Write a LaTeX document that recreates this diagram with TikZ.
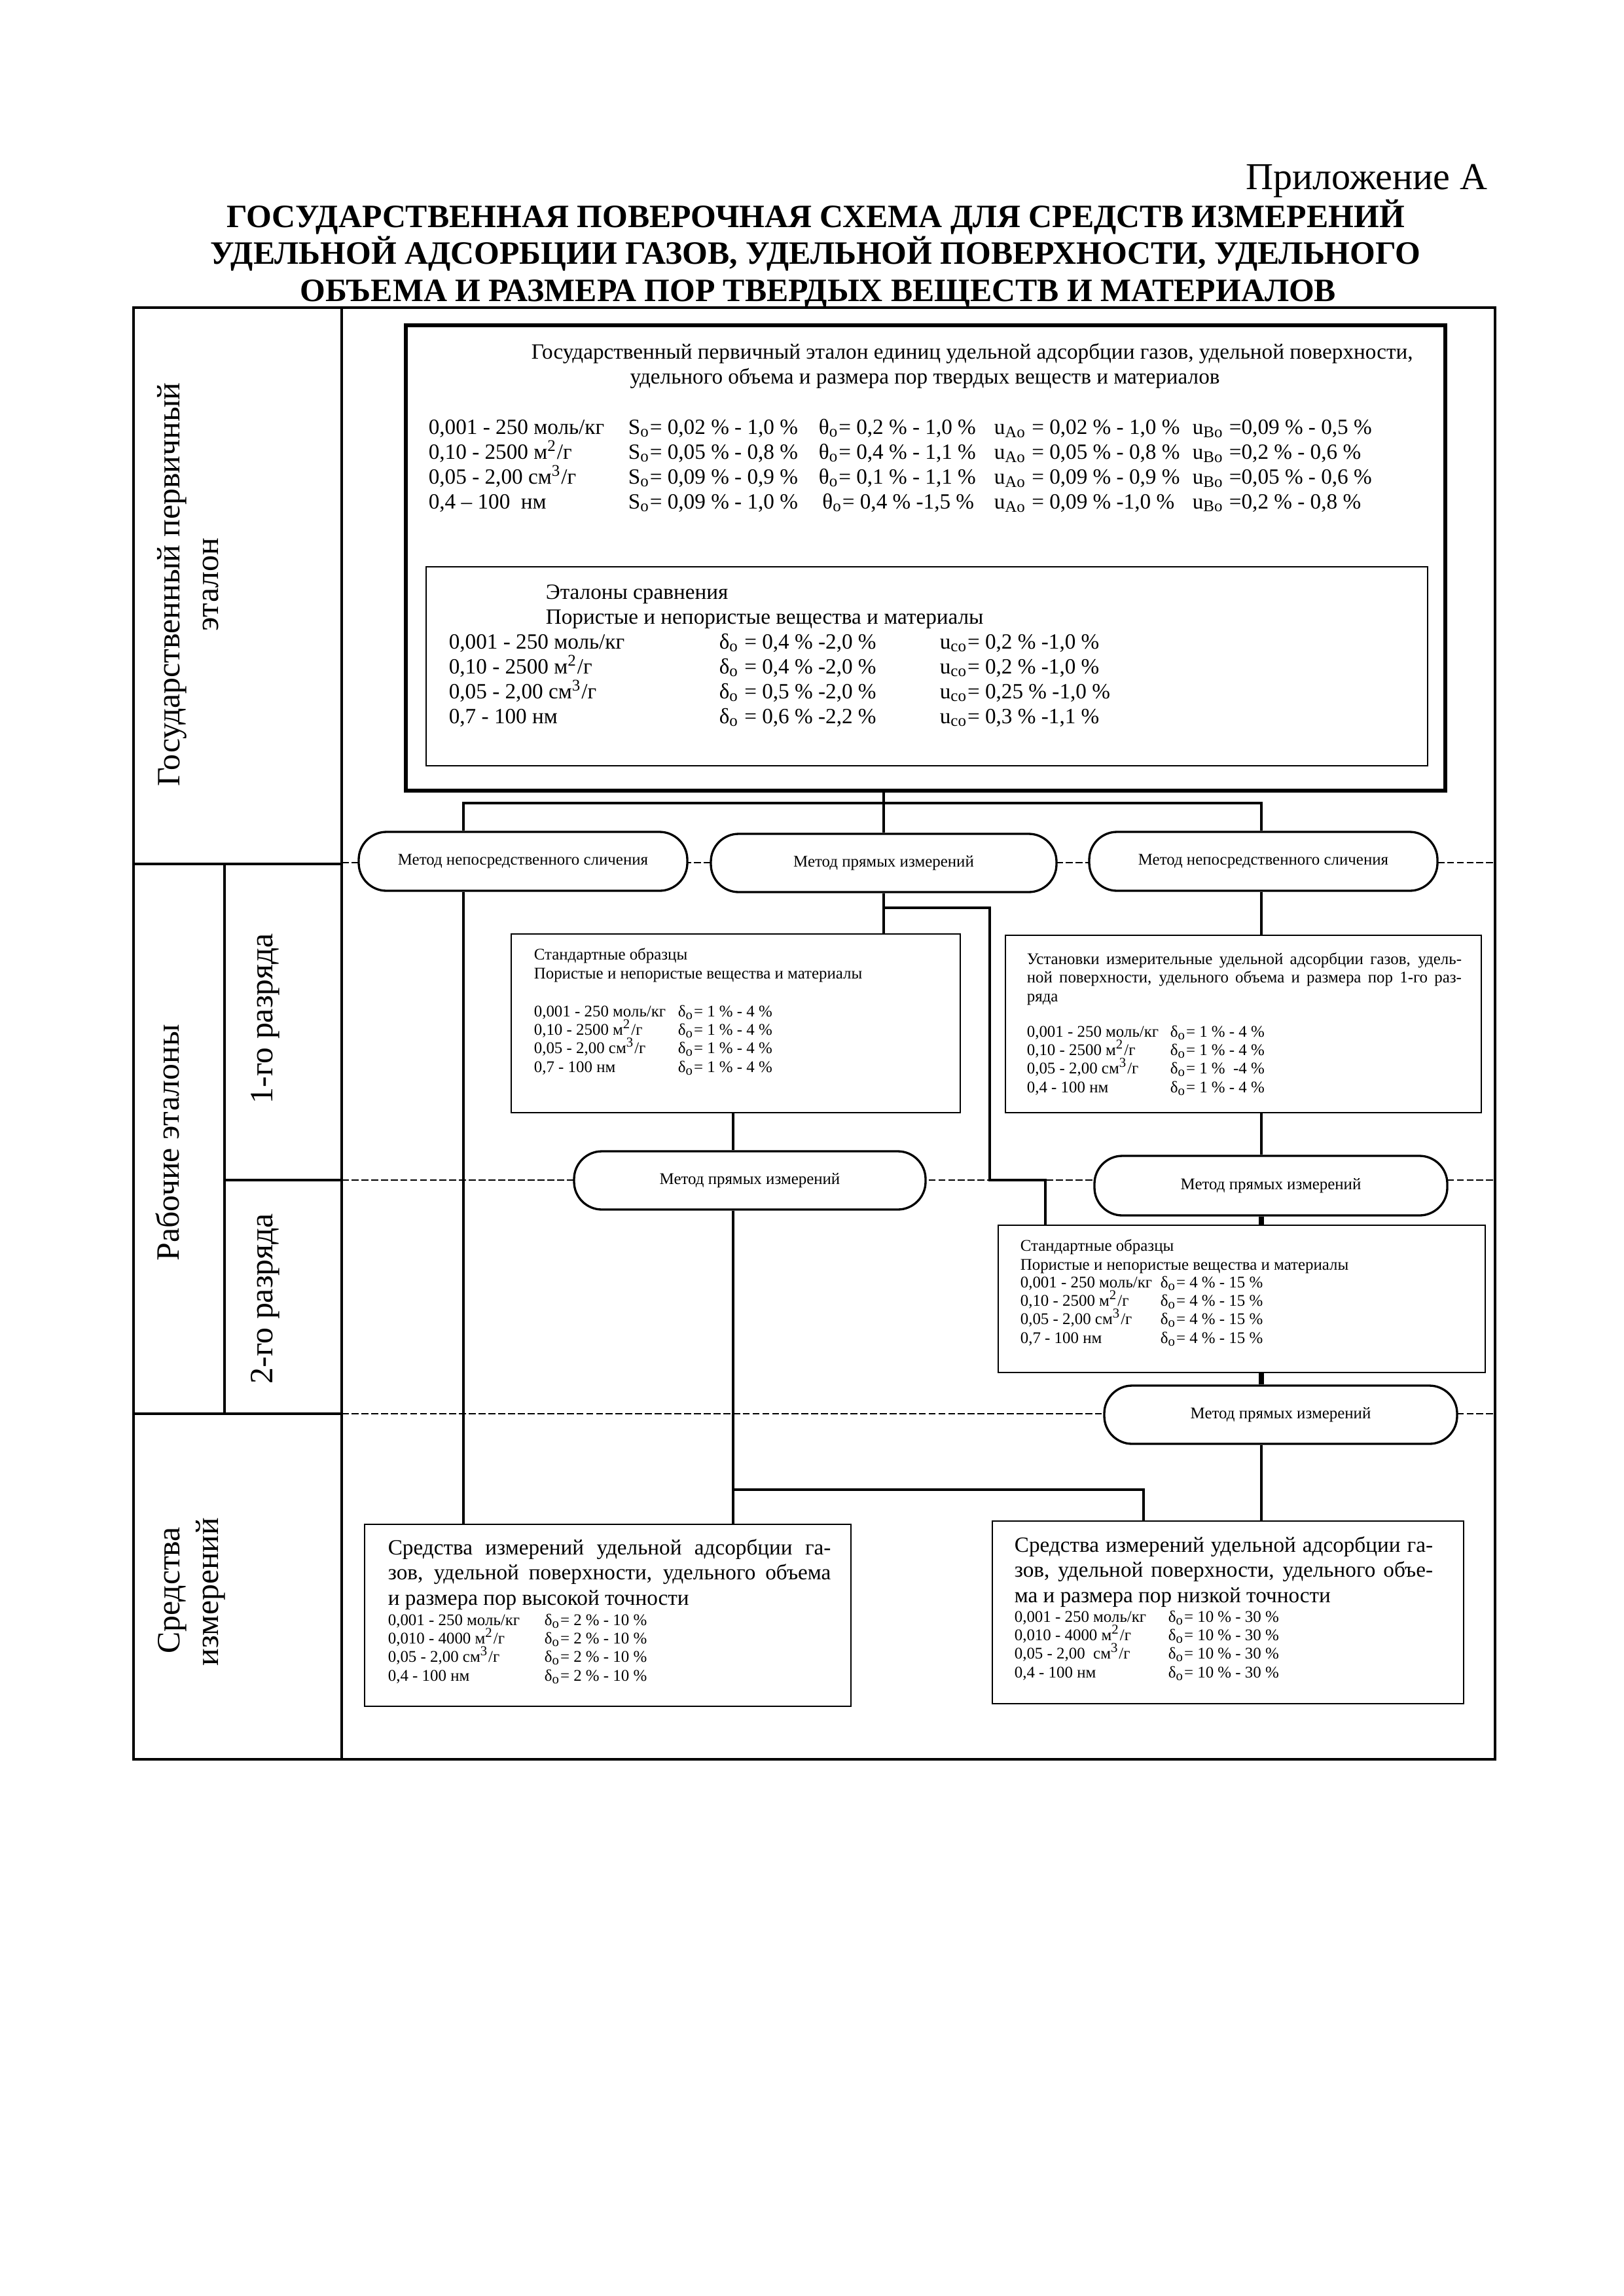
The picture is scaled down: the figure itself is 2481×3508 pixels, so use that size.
\documentclass[tikz,border=0pt]{standalone}
\usepackage{fontspec}
\setmainfont{Liberation Serif}
\usetikzlibrary{fit,positioning}
\setlength{\lineskiplimit}{-10pt}
\tikzset{
  frameline/.style={black, line width=0.8pt},
  wire/.style={black, line width=1.1pt},
  thickwire/.style={black, line width=2pt},
  levelline/.style={black, line width=0.4pt, dash pattern=on 2.6pt off 1pt},
  primebox/.style={draw=black, line width=1.4pt, inner sep=0pt},
  cmpbox/.style={draw=black, line width=0.7pt, inner sep=0pt},
  stdbox/.style={draw=black, line width=0.6pt, fill=white, inner sep=0pt},
  method/.style={draw=black, line width=0.8pt, fill=white, rounded corners=3.6mm, inner sep=0pt},
  methodtext/.style={inner sep=0pt, font=\fontsize{6}{7}\selectfont},
  sidelab/.style={rotate=90, anchor=base, inner sep=0pt, font=\fontsize{12}{14}\selectfont},
  txt/.style={anchor=base west, inner sep=0pt, align=left},
  rows8/.style={txt, font=\fontsize{8}{9.12}\selectfont},
  rows6/.style={txt, font=\fontsize{6}{6.8}\selectfont},
  para8/.style={txt, font=\fontsize{8}{9.24}\selectfont},
}

\begin{document}
\begin{tikzpicture}[x=0.0846667mm,y=-0.0846667mm]
  \path[use as bounding box] (0,0) rectangle (2481,3508);

  % heading
  \node[anchor=base east, inner sep=0pt, font=\fontsize{14}{16}\selectfont] (appendix) at (2273,289) {Приложение А};
  \node[anchor=base, inner sep=0pt, font=\bfseries\fontsize{12}{13.6}\selectfont] (title1) at (1246,347)
    {ГОСУДАРСТВЕННАЯ ПОВЕРОЧНАЯ СХЕМА ДЛЯ СРЕДСТВ ИЗМЕРЕНИЙ};
  \node[anchor=base, inner sep=0pt, font=\bfseries\fontsize{12}{13.6}\selectfont] (title2) at (1246,403)
    {УДЕЛЬНОЙ АДСОРБЦИИ ГАЗОВ, УДЕЛЬНОЙ ПОВЕРХНОСТИ, УДЕЛЬНОГО};
  \node[anchor=base, inner sep=0pt, font=\bfseries\fontsize{12}{13.6}\selectfont] (title3) at (1250,460)
    {ОБЪЕМА И РАЗМЕРА ПОР ТВЕРДЫХ ВЕЩЕСТВ И МАТЕРИАЛОВ};

  % frame and level lines
  \draw[frameline] (204,470) rectangle (2284,2688);
  \draw[frameline] (522,470) -- (522,2688);
  \draw[frameline] (343,1320) -- (343,2160);
  \draw[frameline] (204,1320) -- (522,1320);
  \draw[frameline] (343,1803) -- (522,1803);
  \draw[frameline] (204,2160) -- (522,2160);
  \draw[levelline] (522,1318) -- (2284,1318);
  \draw[levelline] (522,1803) -- (2284,1803);
  \draw[levelline] (522,2160) -- (2284,2160);

  % side labels
  \node[sidelab] (lab-state1) at (274,893) {Государственный первичный};
  \node[sidelab] (lab-state2) at (333,893) {эталон};
  \node[sidelab] (lab-work) at (273,1746) {Рабочие эталоны};
  \node[sidelab] (lab-grade1) at (416,1556) {1-го разряда};
  \node[sidelab] (lab-grade2) at (416,1984) {2-го разряда};
  \node[sidelab] (lab-means1) at (274,2430) {Средства};
  \node[sidelab] (lab-means2) at (333,2432) {измерений};

  % boxes
  \node[primebox, fit={(620,497) (2208,1208)}] (prime) {};
  \node[cmpbox, fit={(651,866) (2181,1170)}] (cmp) {};
  \node[stdbox, fit={(781,1427) (1467,1700)}] (std1) {};
  \node[stdbox, fit={(1536,1429) (2263,1700)}] (inst1) {};
  \node[stdbox, fit={(1525,1872) (2269,2097)}] (std2) {};
  \node[stdbox, fit={(557,2329) (1300,2607)}] (hiacc) {};
  \node[stdbox, fit={(1516,2324) (2236,2603)}] (loacc) {};

  % methods
  \node[method, fit={(548,1271) (1050,1361)},
        label={[methodtext]center:Метод непосредственного сличения}] (cmpL) {};
  \node[method, fit={(1086,1274) (1614,1363)},
        label={[methodtext]center:Метод прямых измерений}] (dirM) {};
  \node[method, fit={(1664,1271) (2196,1361)},
        label={[methodtext]center:Метод непосредственного сличения}] (cmpR) {};
  \node[method, fit={(877,1759) (1414,1848)},
        label={[methodtext]center:Метод прямых измерений}] (dirL2) {};
  \node[method, fit={(1672,1766) (2211,1857)},
        label={[methodtext]center:Метод прямых измерений}] (dirR2) {};
  \node[method, fit={(1687,2117) (2226,2206)},
        label={[methodtext]center:Метод прямых измерений}] (dirR3) {};

  % connectors
  \coordinate (bus) at (0,1227);
  \coordinate (colA) at (708,0);
  \coordinate (colB) at (1120,0);
  \coordinate (colR) at (1927,0);
  \coordinate (branch) at (1512,1387);
  \coordinate (step) at (1597,1803);
  \coordinate (split) at (1747,2276);
  \draw[wire] (dirM.north) -- (dirM.north |- prime.south);
  \draw[wire] (colA |- cmpL.north) -- (colA |- bus) -- (colR |- bus) -- (colR |- cmpR.north);
  \draw[wire] (colA |- cmpL.south) -- (colA |- hiacc.north);
  \draw[wire] (dirM.south) -- (dirM.south |- std1.north);
  \draw[wire] (dirM.south |- branch) -- (branch) |- (step) -- (step |- std2.north);
  \draw[wire] (colR |- cmpR.south) -- (colR |- inst1.north);
  \draw[wire] (colB |- std1.south) -- (colB |- dirL2.north);
  \draw[wire] (colB |- dirL2.south) -- (colB |- hiacc.north);
  \draw[wire] (colB |- split) -- (split) -- (split |- loacc.north);
  \draw[wire] (colR |- inst1.south) -- (colR |- dirR2.north);
  \draw[thickwire] (colR |- dirR2.south) -- (colR |- std2.north);
  \draw[thickwire] (colR |- std2.south) -- (colR |- dirR3.north);
  \draw[wire] (colR |- dirR3.south) -- (colR |- loacc.north);

  % primary standard (multi-line texts sit on the baseline of their last line)
  \node[rows8] (prime-t1) at (811,548)
    {Государственный первичный эталон единиц удельной адсорбции газов, удельной поверхности,};
  \node[anchor=base, inner sep=0pt, font=\fontsize{8}{9.12}\selectfont] (prime-t2) at (1413,586)
    {удельного объема и размера пор твердых веществ и материалов};
  \node[rows8] (prime-range) at (654,777)
    {0,001 - 250 моль/кг\\0,10 - 2500 м\textsuperscript{2}/г\\0,05 - 2,00 см\textsuperscript{3}/г\\0,4 – 100~ нм};
  \node[rows8] (prime-s) at (959,777)
    {S\textsubscript{o}= 0,02 \% - 1,0 \%\\S\textsubscript{o}= 0,05 \% - 0,8 \%\\S\textsubscript{o}= 0,09 \% - 0,9 \%\\S\textsubscript{o}= 0,09 \% - 1,0 \%};
  \node[rows8] (prime-theta) at (1250,777)
    {θ\textsubscript{o}= 0,2 \% - 1,0 \%\\θ\textsubscript{o}= 0,4 \% - 1,1 \%\\θ\textsubscript{o}= 0,1 \% - 1,1 \%\\\,θ\textsubscript{o}= 0,4 \% -1,5 \%};
  \node[rows8] (prime-ua) at (1518,777)
    {u\textsubscript{Ao} = 0,02 \% - 1,0 \%\\u\textsubscript{Ao} = 0,05 \% - 0,8 \%\\u\textsubscript{Ao} = 0,09 \% - 0,9 \%\\u\textsubscript{Ao} = 0,09 \% -1,0 \%};
  \node[rows8] (prime-ub) at (1821,777)
    {u\textsubscript{Bo} =0,09 \% - 0,5 \%\\u\textsubscript{Bo} =0,2 \% - 0,6 \%\\u\textsubscript{Bo} =0,05 \% - 0,6 \%\\u\textsubscript{Bo} =0,2 \% - 0,8 \%};

  % comparison standards
  \node[rows8] (cmp-title) at (833,953)
    {Эталоны сравнения\\Пористые и непористые вещества и материалы};
  \node[rows8] (cmp-range) at (685,1105)
    {0,001 - 250 моль/кг\\0,10 - 2500 м\textsuperscript{2}/г\\0,05 - 2,00 см\textsuperscript{3}/г\\0,7 - 100 нм};
  \node[rows8] (cmp-delta) at (1098,1105)
    {δ\textsubscript{o} = 0,4 \% -2,0 \%\\δ\textsubscript{o} = 0,4 \% -2,0 \%\\δ\textsubscript{o} = 0,5 \% -2,0 \%\\δ\textsubscript{o} = 0,6 \% -2,2 \%};
  \node[rows8] (cmp-u) at (1435,1105)
    {u\textsubscript{co}= 0,2 \% -1,0 \%\\u\textsubscript{co}= 0,2 \% -1,0 \%\\u\textsubscript{co}= 0,25 \% -1,0 \%\\u\textsubscript{co}= 0,3 \% -1,1 \%};

  % first grade
  \node[rows6] (std1-title) at (815,1495)
    {Стандартные образцы\\Пористые и непористые вещества и материалы};
  \node[rows6] (std1-range) at (815,1638)
    {0,001 - 250 моль/кг\\0,10 - 2500 м\textsuperscript{2}/г\\0,05 - 2,00 см\textsuperscript{3}/г\\0,7 - 100 нм};
  \node[rows6] (std1-delta) at (1035,1638)
    {δ\textsubscript{o}= 1 \% - 4 \%\\δ\textsubscript{o}= 1 \% - 4 \%\\δ\textsubscript{o}= 1 \% - 4 \%\\δ\textsubscript{o}= 1 \% - 4 \%};
  \node[rows6] (inst1-title) at (1568,1530)
    {\makebox[160pt][s]{Установки измерительные удельной адсорбции газов, удель-}\\
     \makebox[160pt][s]{ной поверхности, удельного объема и размера пор 1-го раз-}\\ряда};
  \node[rows6] (inst1-range) at (1568,1669)
    {0,001 - 250 моль/кг\\0,10 - 2500 м\textsuperscript{2}/г\\0,05 - 2,00 см\textsuperscript{3}/г\\0,4 - 100 нм};
  \node[rows6] (inst1-delta) at (1787,1669)
    {δ\textsubscript{o}= 1 \% - 4 \%\\δ\textsubscript{o}= 1 \% - 4 \%\\δ\textsubscript{o}= 1 \%~ -4 \%\\δ\textsubscript{o}= 1 \% - 4 \%};

  % second grade
  \node[rows6] (std2-title) at (1558,1940)
    {Стандартные образцы\\Пористые и непористые вещества и материалы};
  \node[rows6] (std2-range) at (1558,2052)
    {0,001 - 250 моль/кг\\0,10 - 2500 м\textsuperscript{2}/г\\0,05 - 2,00 см\textsuperscript{3}/г\\0,7 - 100 нм};
  \node[rows6] (std2-delta) at (1772,2052)
    {δ\textsubscript{o}= 4 \% - 15 \%\\δ\textsubscript{o}= 4 \% - 15 \%\\δ\textsubscript{o}= 4 \% - 15 \%\\δ\textsubscript{o}= 4 \% - 15 \%};

  % measuring instruments
  \node[para8] (hiacc-title) at (592,2452)
    {\makebox[163pt][s]{Средства измерений удельной адсорбции га-}\\
     \makebox[163pt][s]{зов, удельной поверхности, удельного объема}\\и размера пор высокой точности};
  \node[rows6] (hiacc-range) at (592,2568)
    {0,001 - 250 моль/кг\\0,010 - 4000 м\textsuperscript{2}/г\\0,05 - 2,00 см\textsuperscript{3}/г\\0,4 - 100 нм};
  \node[rows6] (hiacc-delta) at (831,2568)
    {δ\textsubscript{o}= 2 \% - 10 \%\\δ\textsubscript{o}= 2 \% - 10 \%\\δ\textsubscript{o}= 2 \% - 10 \%\\δ\textsubscript{o}= 2 \% - 10 \%};
  \node[para8] (loacc-title) at (1549,2448)
    {\makebox[154pt][s]{Средства измерений удельной адсорбции га-}\\
     \makebox[154pt][s]{зов, удельной поверхности, удельного объе-}\\ма и размера пор низкой точности};
  \node[rows6] (loacc-range) at (1549,2563)
    {0,001 - 250 моль/кг\\0,010 - 4000 м\textsuperscript{2}/г\\0,05 - 2,00~ см\textsuperscript{3}/г\\0,4 - 100 нм};
  \node[rows6] (loacc-delta) at (1784,2563)
    {δ\textsubscript{o}= 10 \% - 30 \%\\δ\textsubscript{o}= 10 \% - 30 \%\\δ\textsubscript{o}= 10 \% - 30 \%\\δ\textsubscript{o}= 10 \% - 30 \%};
\end{tikzpicture}
\end{document}
